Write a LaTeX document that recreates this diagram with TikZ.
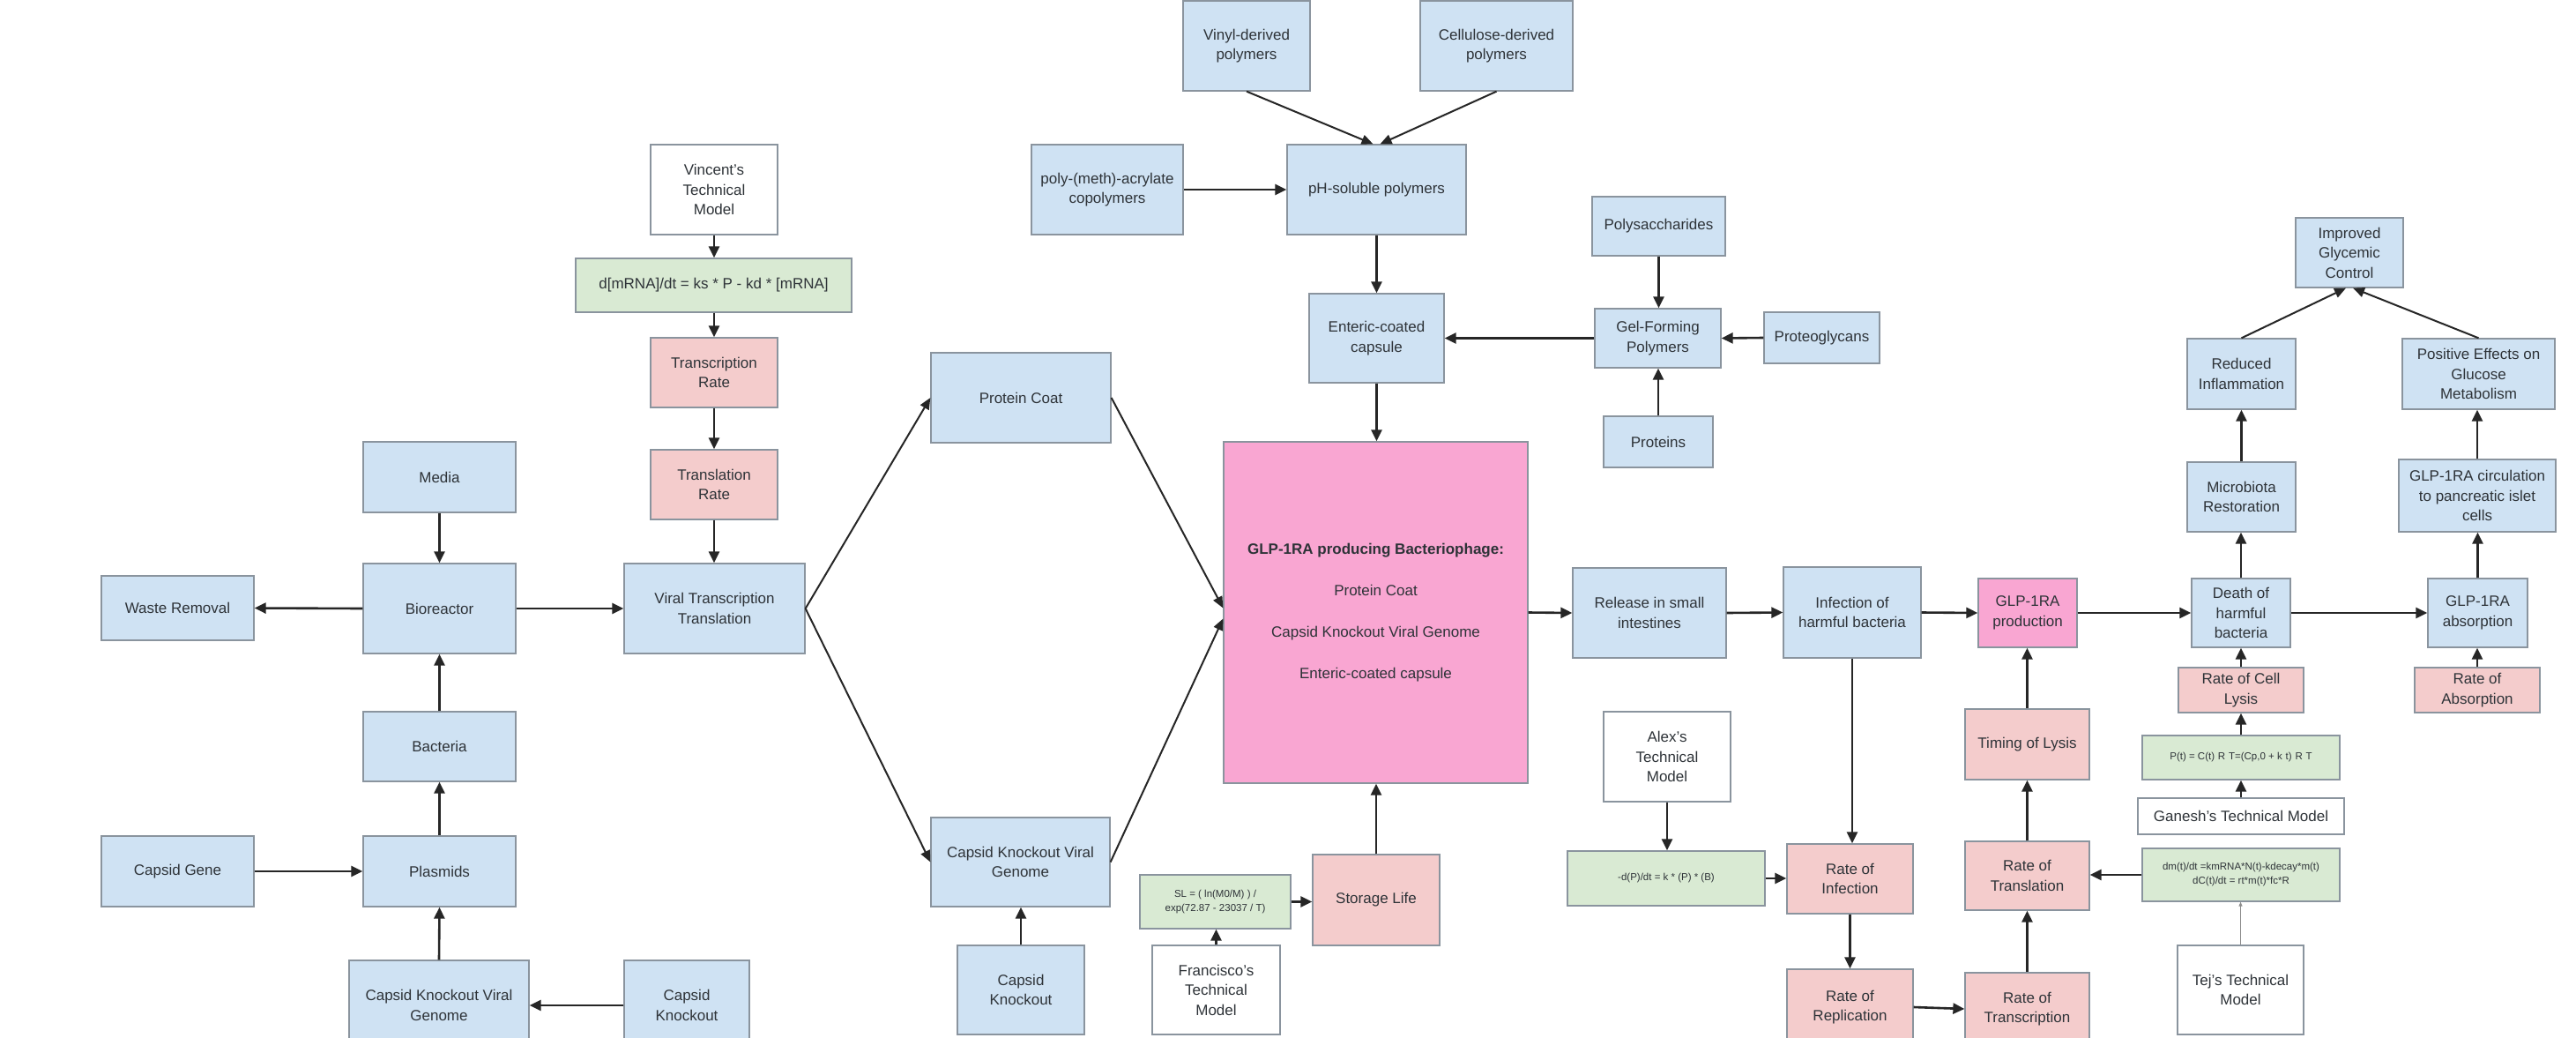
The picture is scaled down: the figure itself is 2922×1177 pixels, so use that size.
\documentclass[tikz,border=0pt]{standalone}
\usepackage{fontspec}
\setmainfont{Liberation Sans}
\usetikzlibrary{arrows.meta}
\definecolor{bfill}{HTML}{CFE2F3}
\definecolor{pfill}{HTML}{F4CCCC}
\definecolor{gfill}{HTML}{D9EAD3}
\definecolor{hfill}{HTML}{F9A6D2}
\definecolor{edgegray}{HTML}{8A949E}
\definecolor{txt}{HTML}{2E3338}
\tikzset{
  base/.style={draw=edgegray, line width=1.3pt, inner sep=2pt, align=center, text=txt, font=\fontsize{17}{22.5}\selectfont},
  bluebox/.style={base, fill=bfill},
  pinkbox/.style={base, fill=pfill},
  greenbox/.style={base, fill=gfill},
  whitebox/.style={base, fill=white},
  hotbox/.style={base, fill=hfill},
  smalltext/.style={font=\fontsize{11.5}{16}\selectfont},
  arr/.style={line width=2.6pt, draw=black!85, -{Triangle[length=13pt,width=12pt]}},
  diag/.style={line width=2pt, draw=black!85, -{Triangle[length=13pt,width=11pt]}},
  thinarr/.style={line width=0.9pt, draw=black!45, -{Triangle[length=5pt,width=4pt]}}
}
\newcommand{\bx}[7]{\node[#1, minimum width={(#5-#3)*1pt}, minimum height={(#6-#4)*1pt}] (#2) at ({(#3+#5)/2},{(#4+#6)/2}) {#7};}
\begin{document}
\begin{tikzpicture}[x=1pt,y=-1pt]
\path[use as bounding box] (0,0) rectangle (2922,1177);
\clip (0,0) rectangle (2922,1177);
\fill[white] (0,0) rectangle (2922,1177);

% top polymers
\bx{bluebox}{vinyl}{1342}{1}{1486}{103}{Vinyl-derived\\polymers}
\bx{bluebox}{cell}{1611}{1}{1784}{103}{Cellulose-derived\\polymers}
\bx{bluebox}{poly}{1170}{164}{1342}{266}{poly-(meth)-acrylate\\copolymers}
\bx{bluebox}{ph}{1460}{164}{1663}{266}{pH-soluble polymers}
\bx{bluebox}{ent}{1485}{333}{1638}{434}{Enteric-coated\\capsule}
\bx{bluebox}{polys}{1806}{223}{1957}{290}{Polysaccharides}
\bx{bluebox}{gel}{1809}{350}{1952}{417}{Gel-Forming\\Polymers}
\bx{bluebox}{pgly}{2001}{354}{2132}{412}{Proteoglycans}
\bx{bluebox}{prot}{1819}{472}{1943}{530}{Proteins}

% Vincent chain
\bx{whitebox}{vinc}{738}{164}{882}{266}{Vincent’s\\Technical\\Model}
\bx{greenbox}{fm1}{653}{293}{966}{354}{d[mRNA]/dt = ks * P - kd * [mRNA]}
\bx{pinkbox}{trate}{738}{383}{882}{462}{Transcription\\Rate}
\bx{pinkbox}{tlrate}{738}{510}{882}{589}{Translation\\Rate}
\bx{bluebox}{vtt}{708}{639}{913}{741}{Viral Transcription\\Translation}

% left column
\bx{bluebox}{media}{412}{501}{585}{581}{Media}
\bx{bluebox}{bio}{412}{639}{585}{741}{Bioreactor}
\bx{bluebox}{waste}{115}{653}{288}{726}{Waste Removal}
\bx{bluebox}{bact}{412}{807}{585}{886}{Bacteria}
\bx{bluebox}{plas}{412}{948}{585}{1028}{Plasmids}
\bx{bluebox}{cgene}{115}{948}{288}{1028}{Capsid Gene}
\bx{bluebox}{ckvgL}{396}{1089}{600}{1191}{Capsid Knockout Viral\\Genome}
\bx{bluebox}{ckL}{708}{1089}{850}{1191}{Capsid\\Knockout}

% center
\bx{bluebox}{pc}{1056}{400}{1260}{502}{Protein Coat}
\bx{bluebox}{ckvgC}{1056}{927}{1259}{1028}{Capsid Knockout Viral\\Genome}
\bx{bluebox}{ckC}{1086}{1072}{1230}{1173}{Capsid\\Knockout}
\node[hotbox, minimum width=345pt, minimum height=387pt, font=\fontsize{17}{47}\selectfont] (pink) at (1560.5,694.5)
  {\textbf{GLP-1RA producing Bacteriophage:}\\Protein Coat\\Capsid Knockout Viral Genome\\Enteric-coated capsule};
\bx{pinkbox}{sl}{1489}{969}{1633}{1072}{Storage Life}
\bx{greenbox,smalltext}{slf}{1293}{992}{1464}{1053}{SL = ( ln(M0/M) ) /\\exp(72.87 - 23037 / T)}
\bx{whitebox}{fran}{1307}{1072}{1452}{1173}{Francisco’s\\Technical\\Model}

% right middle
\bx{bluebox}{rel}{1784}{644}{1958}{746}{Release in small\\intestines}
\bx{bluebox}{inf}{2023}{643}{2179}{746}{Infection of\\harmful bacteria}
\bx{hotbox}{glpprod}{2244}{656}{2356}{734}{GLP-1RA\\production}
\bx{bluebox}{death}{2486}{656}{2598}{734}{Death of\\harmful\\bacteria}
\bx{bluebox}{abs}{2754}{656}{2867}{734}{GLP-1RA\\absorption}
\bx{pinkbox}{rabs}{2739}{757}{2881}{808}{Rate of\\Absorption}
\bx{pinkbox}{rlys}{2471}{757}{2613}{808}{Rate of Cell\\Lysis}
\bx{greenbox,smalltext}{ptf}{2430}{834}{2654}{884}{P(t) = C(t)\,\,R\,\,T=(Cp,0 + k\,\,t)\,\,R\,\,T}
\bx{whitebox}{gan}{2425}{905}{2659}{946}{Ganesh’s Technical Model}
\bx{greenbox,smalltext}{dmf}{2430}{962}{2654}{1022}{dm(t)/dt =kmRNA*N(t)-kdecay*m(t)\\dC(t)/dt = rt*m(t)*fc*R}
\bx{whitebox}{tej}{2470}{1072}{2613}{1173}{Tej’s Technical\\Model}
\bx{pinkbox}{tlys}{2229}{804}{2370}{884}{Timing of Lysis}
\bx{pinkbox}{rtl}{2229}{954}{2370}{1032}{Rate of\\Translation}
\bx{pinkbox}{rtc}{2229}{1103}{2370}{1185}{Rate of\\Transcription}
\bx{pinkbox}{rinf}{2027}{957}{2170}{1036}{Rate of\\Infection}
\bx{pinkbox}{rrep}{2027}{1099}{2170}{1185}{Rate of\\Replication}
\bx{whitebox}{alex}{1819}{807}{1963}{909}{Alex’s\\Technical\\Model}
\bx{greenbox,smalltext}{adf}{1778}{965}{2002}{1027}{-d(P)/dt = k * (P) * (B)}

% far right
\bx{bluebox}{micro}{2481}{524}{2604}{603}{Microbiota\\Restoration}
\bx{bluebox}{red}{2481}{384}{2604}{464}{Reduced\\Inflammation}
\bx{bluebox}{imp}{2604}{247}{2726}{326}{Improved\\Glycemic\\Control}
\bx{bluebox}{pos}{2725}{384}{2898}{464}{Positive Effects on\\Glucose\\Metabolism}
\bx{bluebox}{circ}{2721}{521}{2899}{603}{GLP-1RA circulation\\to pancreatic islet\\cells}

% connectors: polymers
\draw[diag] (vinyl.south) -- ([xshift=-4pt]ph.north);
\draw[diag] (cell.south) -- ([xshift=4pt]ph.north);
\draw[arr] (poly.east) -- (ph.west);
\draw[arr] (ph.south) -- (ent.north);
\draw[arr] (gel.west) -- (ent.east);
\draw[arr] (ent.south) -- (ent.south |- pink.north);
\draw[arr] (polys.south) -- (polys.south |- gel.north);
\draw[arr] (pgly.west) -- (gel.east);
\draw[arr] (prot.north) -- (prot.north |- gel.south);

% Vincent chain
\draw[arr] (vinc.south) -- (vinc.south |- fm1.north);
\draw[arr] (trate.north |- fm1.south) -- (trate.north);
\draw[arr] (trate.south) -- (tlrate.north);
\draw[arr] (tlrate.south) -- (tlrate.south |- vtt.north);

% left column
\draw[arr] (media.south) -- (bio.north);
\draw[arr] (bio.west) -- (waste.east);
\draw[arr] (bio.east) -- (vtt.west);
\draw[arr] (bact.north) -- (bio.south);
\draw[arr] (plas.north) -- (bact.south);
\draw[arr] (cgene.east) -- (plas.west);
\draw[arr] (ckvgL.north) -- (plas.south);
\draw[arr] (ckL.west) -- (ckvgL.east);

% center
\draw[diag] (vtt.east) -- (pc.west);
\draw[diag] (vtt.east) -- (ckvgC.west);
\draw[diag] (pc.east) -- ([yshift=5pt]pink.west);
\draw[diag] (ckvgC.east) -- ([yshift=-7pt]pink.west);
\draw[arr] (ckC.north) -- (ckC.north |- ckvgC.south);
\draw[arr] (sl.north) -- (sl.north |- pink.south);
\draw[arr] (slf.east) -- (slf.east -| sl.west);
\draw[arr] (fran.north) -- (fran.north |- slf.south);

% main flow
\draw[arr] (pink.east) -- (rel.west);
\draw[arr] (rel.east) -- (inf.west);
\draw[arr] (inf.east) -- (glpprod.west);
\draw[arr] (glpprod.east) -- (death.west);
\draw[arr] (death.east) -- (abs.west);

% infection branch
\draw[arr] (inf.south) -- (inf.south |- rinf.north);
\draw[arr] (alex.south) -- (alex.south |- adf.north);
\draw[arr] (adf.east) -- (adf.east -| rinf.west);
\draw[arr] (rinf.south) -- (rrep.north);
\draw[arr] (rrep.east) -- (rtc.west);
\draw[arr] (rtc.north) -- (rtl.south);
\draw[arr] (rtl.north) -- (tlys.south);
\draw[arr] (tlys.north) -- (tlys.north |- glpprod.south);
\draw[arr] (dmf.west) -- (dmf.west -| rtl.east);
\draw[thinarr] (tej.north) -- (tej.north |- dmf.south);

% lysis branch
\draw[arr] (gan.north) -- (gan.north |- ptf.south);
\draw[arr] (ptf.north) -- (ptf.north |- rlys.south);
\draw[arr] (rlys.north) -- (rlys.north |- death.south);
\draw[arr] (death.north) -- (death.north |- micro.south);
\draw[arr] (micro.north) -- (red.south);
\draw[diag] (red.north) -- ([xshift=-4pt]imp.south);
\draw[diag] (pos.north) -- ([xshift=4pt]imp.south);
\draw[arr] (circ.north) -- (circ.north |- pos.south);
\draw[arr] (abs.north) -- (abs.north |- circ.south);
\draw[arr] (rabs.north) -- (rabs.north |- abs.south);
\end{tikzpicture}
\end{document}
